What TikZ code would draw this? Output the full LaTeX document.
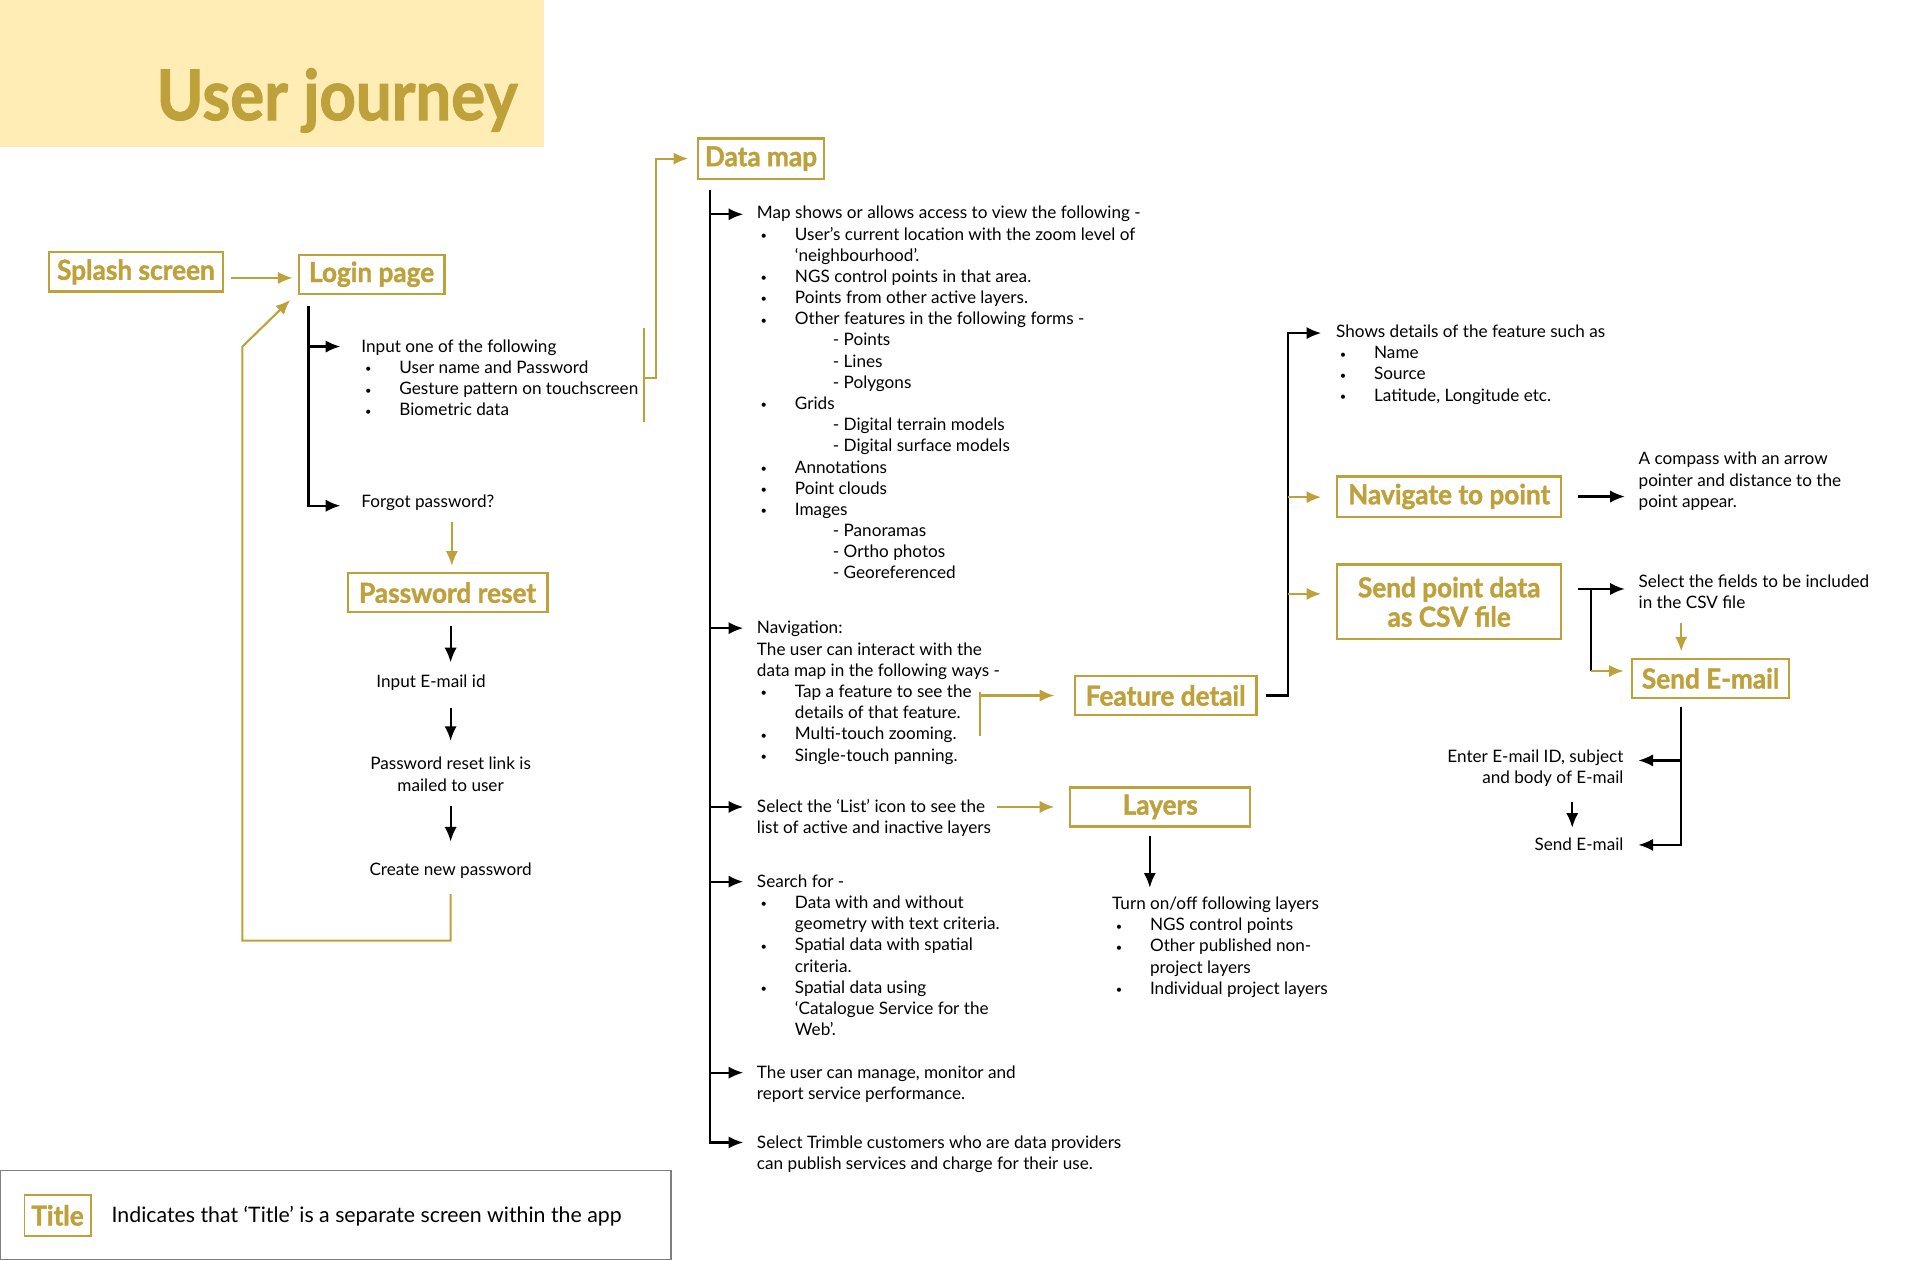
\documentclass[tikz,border=0pt]{standalone}
\usepackage{fontspec}
\setmainfont{Lato}
\newfontfamily\headfam{Lato}[FakeStretch=0.95,BoldFeatures={FakeBold=1.5}]
\newfontfamily\ttlfam{Lato}[FakeStretch=0.91,BoldFeatures={FakeBold=1.5}]
\usetikzlibrary{arrows.meta,positioning}
\definecolor{gold}{HTML}{BFA13B}
\definecolor{band}{HTML}{FFEDB5}
\definecolor{keygray}{HTML}{7F7F7F}

\begin{document}
\begin{tikzpicture}[x=1pt,y=-1pt,
    line/.style={line width=1.8pt},
    arr/.style={line width=1.8pt,-{Latex[length=12pt,width=10pt]}},
    gline/.style={gold,line width=1.7pt},
    garr/.style={gold,line width=1.7pt,-{Latex[length=12pt,width=10pt]}},
    screen/.style={draw=gold,line width=1.9pt,text=gold,font=\headfont,
      inner sep=0pt,minimum height=32pt,align=center},
    txt/.style={anchor=north west,inner sep=0pt,align=left,yshift=7.6pt,font=\bodyfont}]
  \newcommand{\bodyfont}{\fontsize{14}{17.3}\selectfont}
  \newcommand{\headfont}{\headfam\bfseries\fontsize{22.5}{24}\selectfont}
  \newcommand{\itm}{\hspace*{3pt}\makebox[28pt][l]{\raisebox{0.5pt}{\small\textbullet}}}
  \newcommand{\cnt}{\hspace*{31pt}}
  \newcommand{\dsh}{\hspace*{62pt}-\ }
  \useasboundingbox (0,0) rectangle (1568,1029);

  % title
  \fill[band] (0,0) rectangle (444,120);
  \node[anchor=base east,inner sep=0pt,text=gold,
    font=\ttlfam\bfseries\fontsize{57}{60}\selectfont] (ttl) at (423,98) {User journey};

  % screens
  \node[screen,minimum width=142pt] (splash) at (111,222) {Splash screen};
  \node[screen,minimum width=119pt] (login) at (303.5,224) {Login page};
  \node[screen,minimum width=103pt,minimum height=33pt] (dmap) at (621.5,129.5) {Data map};
  \node[screen,minimum width=163pt] (reset) at (365.5,484) {Password reset};
  \node[screen,minimum width=148pt] (feat) at (952,568) {Feature detail};
  \node[screen,minimum width=147pt] (layers) at (947.5,659) {Layers};
  \node[screen,minimum width=183pt,minimum height=33pt] (nav) at (1183.5,405.5) {Navigate to point};
  \node[screen,minimum width=183pt,minimum height=61pt] (csv) at (1183.5,491.5) {Send point data\\as CSV file};
  \node[screen,minimum width=128pt] (mail) at (1397,554) {Send E-mail};

  % login
  \draw[garr] (splash.east) ++(6,5) -- ++(50,0);
  \coordinate (lgtop) at (252,250);
  \coordinate (lg1) at (278,283);
  \coordinate (lg2) at (278,413);
  \draw[arr] (lgtop) |- (lg2);
  \draw[arr] (lg1 -| lgtop) -- (lg1);
  \node[txt] (opts) at (295,283) {\strut Input one of the following\\
    \itm User name and Password\\
    \itm Gesture pattern on touchscreen\\
    \itm Biometric data};
  \node[txt] (forgot) at (295,410) {\strut Forgot password?};
  \coordinate (br1) at (526,268);
  \coordinate (br2) at (526,345);
  \coordinate (br3) at (526,309);
  \draw[gline] (br1) -- (br2);
  \draw[garr] (br3) -- ++(10,0) |- ([xshift=-7pt]dmap.west);

  % password reset
  \draw[garr] (reset.north) ++(3.5,-41) -- ++(0,36);
  \node[txt,anchor=north,align=center] (inmail) at (352,557) {\strut Input E-mail id};
  \node[txt,anchor=north,align=center] (link) at (368,624) {\strut Password reset link is\\mailed to user};
  \node[txt,anchor=north,align=center] (newpw) at (368,710) {\strut Create new password};
  \draw[arr] (reset.south) ++(2.5,10) -- ++(0,30);
  \draw[arr] (inmail.south) ++(16,11) -- ++(0,27);
  \draw[arr] (link.south) ++(0,12) -- ++(0,29);
  \draw[garr] (newpw.south) ++(0,10) -- ++(0,38) -| (198,283) -- ([xshift=-6pt,yshift=-4pt]login.south west);

  % data map
  \coordinate (dmtop) at (580,155);
  \foreach \n/\y in {1/175,2/513,3/659,4/720,5/876,6/933}
    \coordinate (m\n) at (607,\y);
  \draw[arr] (dmtop) |- (m6);
  \foreach \n in {1,...,5}
    \draw[arr] (m\n -| dmtop) -- (m\n);
  \node[txt] (view) at (618,174) {\strut Map shows or allows access to view the following -\\
    \itm User’s current location with the zoom level of\\
    \cnt ‘neighbourhood’.\\
    \itm NGS control points in that area.\\
    \itm Points from other active layers.\\
    \itm Other features in the following forms -\\
    \dsh Points\\
    \dsh Lines\\
    \dsh Polygons\\
    \itm Grids\\
    \dsh Digital terrain models\\
    \dsh Digital surface models\\
    \itm Annotations\\
    \itm Point clouds\\
    \itm Images\\
    \dsh Panoramas\\
    \dsh Ortho photos\\
    \dsh Georeferenced};
  \node[txt] (navi) at (618,513) {\strut Navigation:\\
    The user can interact with the\\
    data map in the following ways -\\
    \itm Tap a feature to see the\\
    \cnt details of that feature.\\
    \itm Multi-touch zooming.\\
    \itm Single-touch panning.};
  \node[txt] (list) at (618,659) {\strut Select the ‘List’ icon to see the\\
    list of active and inactive layers};
  \node[txt] (search) at (618,720) {\strut Search for -\\
    \itm Data with and without\\
    \cnt geometry with text criteria.\\
    \itm Spatial data with spatial\\
    \cnt criteria.\\
    \itm Spatial data using\\
    \cnt ‘Catalogue Service for the\\
    \cnt Web’.};
  \node[txt] (manage) at (618,876) {\strut The user can manage, monitor and\\
    report service performance.};
  \node[txt] (trimble) at (618,933) {\strut Select Trimble customers who are data providers\\
    can publish services and charge for their use.};

  % feature detail and layers
  \coordinate (br4) at (800,565);
  \coordinate (br5) at (800,601);
  \draw[gline] (br4) -- (br5);
  \draw[garr] (br4) ++(0,3) -- ([xshift=-16pt]feat.west);
  \draw[garr] (list.north east) ++(5,7.6) -- ([xshift=-12pt]layers.west);
  \draw[arr] (layers.south) ++(-8.5,7) -- ++(0,42);
  \node[txt] (turn) at (908,738) {\strut Turn on/off following layers\\
    \itm NGS control points\\
    \itm Other published non-\\
    \cnt project layers\\
    \itm Individual project layers};
  \coordinate (fd) at (1052,568);
  \coordinate (fd1) at (1079,272);
  \coordinate (fd2) at (1079,406);
  \coordinate (fd3) at (1079,485);
  \draw[arr] ([xshift=7pt]feat.east) -- (fd) |- (fd1);
  \draw[garr] (fd2 -| fd) -- (fd2);
  \draw[garr] (fd3 -| fd) -- (fd3);
  \node[txt] (shows) at (1091,271) {\strut Shows details of the feature such as\\
    \itm Name\\
    \itm Source\\
    \itm Latitude, Longitude etc.};

  % navigate and csv
  \draw[arr] ([xshift=13pt]nav.east) -- ++(38,0);
  \node[txt] (compass) at (1338,375) {\strut A compass with an arrow\\
    pointer and distance to the\\
    point appear.};
  \coordinate (cs1) at (1299,481);
  \coordinate (cs2) at (1299,548);
  \draw[arr] (csv.east) ++(13,-10.5) -- ++(38,0);
  \draw[line] (cs1) -- (cs2);
  \draw[garr] (cs2) -- ++(27,0);
  \node[txt] (fields) at (1338,475) {\strut Select the fields to be included\\
    in the CSV file};
  \draw[garr] (mail.north) ++(-24,-28) -- ++(0,23);
  \coordinate (ms) at (1373,577);
  \coordinate (me1) at (1338,621);
  \coordinate (me2) at (1338,690);
  \draw[arr] (ms) |- (me2);
  \draw[arr] (me1 -| ms) -- (me1);
  \node[txt,anchor=north east,align=right] (enter) at (1326,618) {\strut Enter E-mail ID, subject\\
    and body of E-mail};
  \node[txt,anchor=north east,align=right] (sent) at (1326,690) {\strut Send E-mail};
  \coordinate (ea) at (1284,655);
  \draw[arr] (ea) -- ++(0,21);

  % key
  \draw[keygray,line width=1.2pt] (0.6,956) rectangle (548,1028.4);
  \node[screen,minimum width=54pt,minimum height=33pt,line width=1.6pt] (key) at (47,992.5) {Title};
  \node[anchor=west,inner sep=0pt,font=\fontsize{17.4}{20}\selectfont] (keytxt) at (91,993)
    {Indicates that ‘Title’ is a separate screen within the app};
\end{tikzpicture}
\end{document}
